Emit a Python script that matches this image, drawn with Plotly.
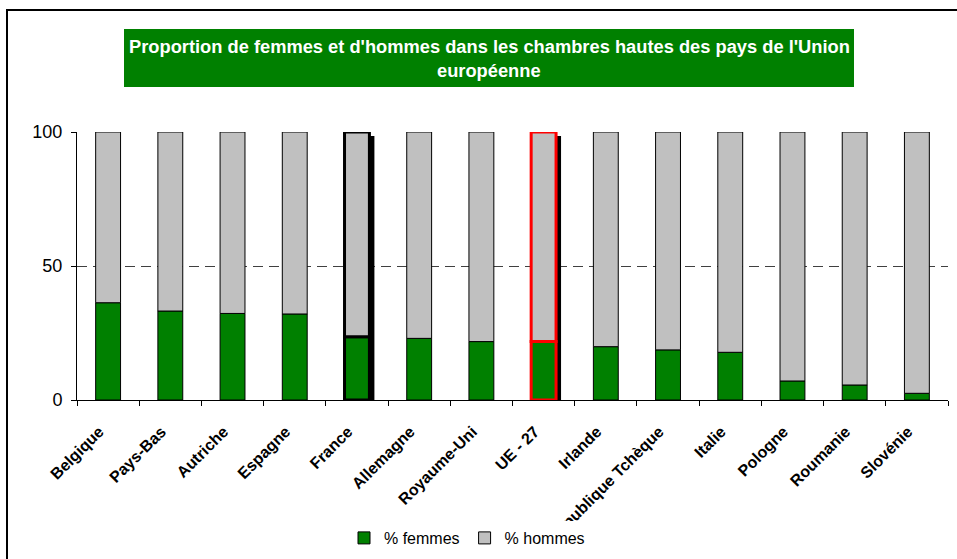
import plotly.graph_objects as go

# ---- data ----
categories = ["Belgique", "Pays-Bas", "Autriche", "Espagne", "France", "Allemagne",
              "Royaume-Uni", "UE - 27", "Irlande", "République Tchèque", "Italie",
              "Pologne", "Roumanie", "Slovénie"]
femmes = [36.3, 33.2, 32.3, 32.1, 23.6, 23.0, 21.8, 21.8, 19.9, 18.7, 17.8, 7.1, 5.6, 2.5]
hommes = [63.7, 66.8, 67.7, 67.9, 76.4, 77.0, 78.2, 78.2, 80.1, 81.3, 82.2, 92.9, 94.4, 97.5]
highlight = {"France": "#000000", "UE - 27": "#FF0000"}
y_ticks = [0, 50, 100]
title_lines = ["Proportion de femmes et d'hommes dans les chambres hautes des pays de l'Union",
               "européenne"]

FONT = "Liberation Sans, Arial, sans-serif"
GREEN = "#008000"
GREY = "#C0C0C0"
BAR_W = 0.4

# plot-area geometry (pixels)
L, R, T, B = 77, 9, 132, 159
W, H = 957, 559
PW, PH = W - L - R, H - T - B

def px_x(p):
    return (p - L) / PW

def px_y(p):
    return (H - B - p) / PH

line_w = [3 if c in highlight else 1 for c in categories]
line_c = [highlight.get(c, "#000000") for c in categories]

# shadow for highlighted bars (offset right / down, as in the original)
sh_x = [c for c in categories if c in highlight]
sh_tot = [femmes[categories.index(c)] + hommes[categories.index(c)] for c in sh_x]
drop = 4 * 100 / PH                 # 4 px drop, in data units
shift = 5 / (PW / len(categories))  # 5 px right shift, in category units

fig = go.Figure()
fig.add_trace(go.Bar(
    x=sh_x, y=[t - drop for t in sh_tot], base=[0] * len(sh_x),
    width=BAR_W, offset=-BAR_W / 2 + shift,
    marker=dict(color="#000000", line=dict(width=0)),
    showlegend=False, hoverinfo="skip"))
fig.add_trace(go.Bar(
    x=categories, y=femmes, base=[0] * len(categories), name="% femmes",
    width=BAR_W, offset=-BAR_W / 2,
    marker=dict(color=GREEN, line=dict(width=line_w, color=line_c))))
fig.add_trace(go.Bar(
    x=categories, y=hommes, base=femmes, name="% hommes",
    width=BAR_W, offset=-BAR_W / 2,
    marker=dict(color=GREY, line=dict(width=line_w, color=line_c))))

shapes = [
    # outer frame
    dict(type="rect", xref="paper", yref="paper",
         x0=px_x(7), x1=px_x(W + 5), y0=px_y(H + 5), y1=px_y(10),
         line=dict(color="#000000", width=2)),
    # title box
    dict(type="rect", xref="paper", yref="paper",
         x0=px_x(124), x1=px_x(854), y0=px_y(87), y1=px_y(29),
         fillcolor=GREEN, line=dict(width=0), layer="below"),
]
annotations = [
    dict(text=title_lines[0], xref="paper", yref="paper", x=px_x(489), y=px_y(46),
         xanchor="center", yanchor="middle", showarrow=False,
         font=dict(family=FONT, size=18.3, color="white", weight="bold")),
    dict(text=title_lines[1], xref="paper", yref="paper", x=px_x(489), y=px_y(71),
         xanchor="center", yanchor="middle", showarrow=False,
         font=dict(family=FONT, size=18.3, color="white", weight="bold")),
]

fig.update_layout(
    width=W, height=H,
    margin=dict(l=L, r=R, t=T, b=B, pad=0, autoexpand=False),
    paper_bgcolor="white", plot_bgcolor="white",
    barmode="overlay",
    font=dict(family=FONT, color="#000000"),
    shapes=shapes, annotations=annotations,
    showlegend=True,
    legend=dict(orientation="h", x=px_x(467), y=px_y(538), xanchor="center", yanchor="middle",
                font=dict(family=FONT, size=16, color="#000000"),
                itemwidth=30, traceorder="normal", bgcolor="#FFFFFF"),
)
fig.update_xaxes(
    type="category", categoryorder="array", categoryarray=categories,
    showline=True, linecolor="#000000", linewidth=1,
    ticks="outside", tickson="boundaries", ticklen=5, tickcolor="#000000",
    tickangle=-45, ticklabelstandoff=15, ticklabelshift=-9,
    tickfont=dict(family=FONT, size=16, color="#000000", weight="bold"),
    showgrid=False, range=[-0.5, len(categories) - 0.5])
fig.update_yaxes(
    range=[0, 100], tickvals=y_ticks, ticktext=[str(v) for v in y_ticks],
    showline=True, linecolor="#000000", linewidth=1,
    ticks="outside", ticklen=5, tickcolor="#000000", ticklabelstandoff=5,
    tickfont=dict(family=FONT, size=18, color="#000000"),
    showgrid=True, gridcolor="#404040", gridwidth=1, griddash="10px,6px",
    zeroline=False)

fig.write_html("out.html", config={"displayModeBar": False},
               post_script="document.body.style.margin='0px';")
